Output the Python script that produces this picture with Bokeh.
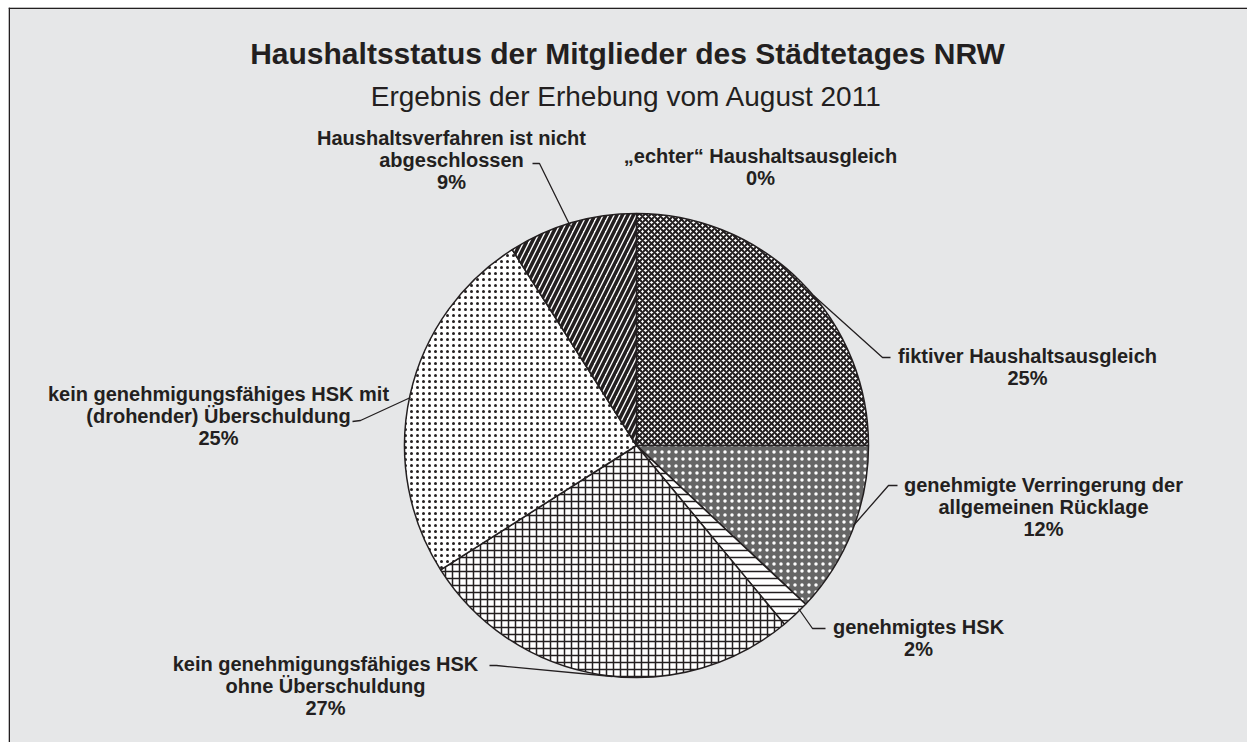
import math
from bokeh.plotting import figure
from bokeh.models import ColumnDataSource, Range1d, Span, Label
from bokeh.core.properties import value
from bokeh.embed import file_html
from bokeh.resources import INLINE

# ---------------- data ----------------
title = "Haushaltsstatus der Mitglieder des Städtetages NRW"
subtitle = "Ergebnis der Erhebung vom August 2011"
categories = [
    "\u201eechter\u201c Haushaltsausgleich",
    "fiktiver Haushaltsausgleich",
    "genehmigte Verringerung der\nallgemeinen Rücklage",
    "genehmigtes HSK",
    "kein genehmigungsfähiges HSK\nohne Überschuldung",
    "kein genehmigungsfähiges HSK mit\n(drohender) Überschuldung",
    "Haushaltsverfahren ist nicht\nabgeschlossen",
]
shares = [0, 25, 12, 2, 27, 25, 9]

# ---------------- layout / style ----------------
W, H = 1247, 742
LEFT, TOP = 8, 7
INK = "#231f20"
BG = "#e6e7e8"

def px(X):
    return X - LEFT

def py(Y):
    return H - Y

CX, CY, R = px(636), py(445), 232

patterns = ["blank", "x", ".", "-", "+", ".", "/"]
hscale = [8, 6, 7, 7, 7, 6, 11]
hweight = [1, 2, 1, 1.5, 1.5, 1, 3.6]
hcolor = [INK, INK, "white", INK, INK, INK, INK]
fcolor = ["white", "white", "#666666", "white", "white", "white", "white"]

total = float(sum(shares))
w = dict(start=[], end=[], pattern=[], scale=[], weight=[], hcolor=[], fcolor=[])
acc = 0.0
for i, s in enumerate(shares):
    a0 = acc / total
    acc += s
    a1 = acc / total
    if s <= 0:
        continue
    w["start"].append(math.pi / 2 - 2 * math.pi * a1)
    w["end"].append(math.pi / 2 - 2 * math.pi * a0)
    w["pattern"].append(patterns[i])
    w["scale"].append(hscale[i])
    w["weight"].append(hweight[i])
    w["hcolor"].append(hcolor[i])
    w["fcolor"].append(fcolor[i])
wsrc = ColumnDataSource(w)

label_pos = [(760, 166), (1027, 366), (1043, 506), (918, 637),
             (325, 685), (218, 415), (451, 159)]
leaders = [
    None,
    [(813, 295), (882, 357), (890, 357)],
    [(853, 525), (888, 485), (897, 485)],
    [(798, 608), (812, 628), (825, 628)],
    [(612, 676), (496, 665), (489, 665)],
    [(410, 397), (360, 420), (352, 421)],
    [(570, 226), (539, 163), (532, 163)],
]

lsrc = ColumnDataSource(dict(
    x=[px(a) for a, b in label_pos],
    y=[py(b) for a, b in label_pos],
    text=[f"{c}\n{s}%" for c, s in zip(categories, shares)],
))

p = figure(width=W, height=H, x_range=Range1d(0, W - LEFT), y_range=Range1d(0, H - TOP),
           output_backend="svg", toolbar_location=None,
           min_border_left=LEFT, min_border_top=TOP, min_border_right=0, min_border_bottom=0,
           x_axis_type=None, y_axis_type=None,
           background_fill_color=BG, border_fill_color="white",
           outline_line_color=None)
p.grid.visible = False

p.wedge(x=CX, y=CY, radius=R, start_angle="start", end_angle="end",
        source=wsrc, fill_color="fcolor", line_color=INK, line_width=1.5,
        hatch_pattern="pattern", hatch_scale="scale", hatch_weight="weight",
        hatch_color="hcolor")

lx = [[px(a) for a, b in L] for L in leaders if L]
ly = [[py(b) for a, b in L] for L in leaders if L]
p.multi_line(xs=lx, ys=ly, line_color=INK, line_width=1.3)

p.text(x="x", y="y", text="text", source=lsrc,
       text_font=value("Liberation Sans"), text_font_style="bold",
       text_font_size="20px", text_align="center", text_baseline="middle",
       text_line_height=1.0, text_color=INK)

p.add_layout(Label(x=px(627), y=py(53), text=title, text_align="center",
                   text_baseline="middle", text_font="Liberation Sans",
                   text_font_style="bold", text_font_size="30px", text_color=INK))
p.add_layout(Label(x=px(626), y=py(96), text=subtitle, text_align="center",
                   text_baseline="middle", text_font="Liberation Sans",
                   text_font_size="28px", text_color=INK))

p.add_layout(Span(location=0.75, dimension="height", line_color=INK, line_width=1.5))
p.add_layout(Span(location=H - TOP - 0.75, dimension="width", line_color=INK, line_width=1.5))

open("out.html", "w").write(file_html(p, INLINE))
